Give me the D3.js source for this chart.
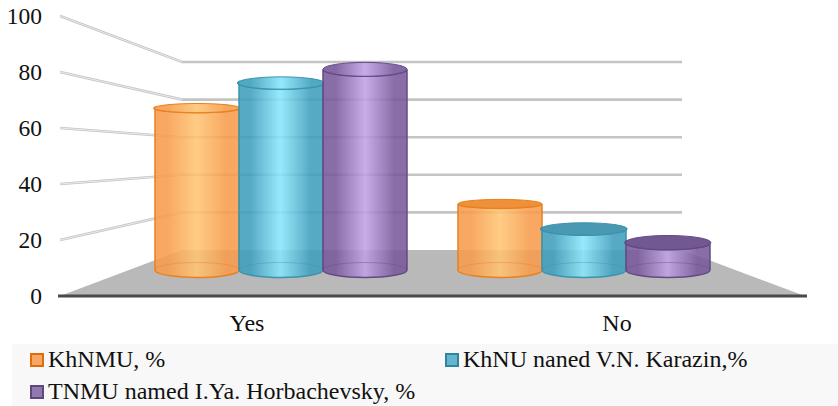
<!DOCTYPE html>
<html>
<head>
<meta charset="utf-8">
<script src="https://cdn.jsdelivr.net/npm/d3@7/dist/d3.min.js"></script>
<style>
  html, body { margin: 0; padding: 0; background: #fff; }
  svg { display: block; }
  text { font-family: "Liberation Serif", serif; fill: #111; }
</style>
</head>
<body>
<svg id="chart" width="838" height="406"></svg>
<script>
// Survey answers, in percent
const categories = ["Yes", "No"];
const seriesNames = ["KhNMU, %", "KhNU naned V.N. Karazin,%", "TNMU named I.Ya. Horbachevsky, %"];
const khnmu = [71, 29];
const khnu = [82, 18];
const tnmu = [88, 12];
const yTicks = [0, 20, 40, 60, 80, 100];

const allSeries = [khnmu, khnu, tnmu];

// One palette per series: edge, centre, outline, cap
const palette = [
  { edge: "#f79c4c", mid: "#ffc574", line: "#e8801f", cap: "#ee8a30", swatch: "#f6a765", swatchLine: "#e36c0a" },
  { edge: "#3f9fbc", mid: "#8ae6fc", line: "#3b94ad", cap: "#3e93ad", swatch: "#62b6cf", swatchLine: "#31859c" },
  { edge: "#78599a", mid: "#c0a2e6", line: "#644a85", cap: "#6a4f8a", swatch: "#9178b0", swatchLine: "#5f497a" }
];

const svg = d3.select("#chart");
const defs = svg.append("defs");

// Three depth planes of the 3D box
const frontY = d3.scaleLinear().domain([0, 100]).range([296, 16]);
const backY = d3.scaleLinear().domain([0, 100]).range([250, 62]);
const barY = d3.scaleLinear().domain([0, 100]).range([270, 42]);

const frontX = d3.scaleLinear().domain([0, 1]).range([60, 805]);
const backX = d3.scaleLinear().domain([0, 1]).range([182, 682]);

// Bar positions sit on the middle plane; labels on the front edge
const barGroups = d3.scaleOrdinal().domain(categories).range([155, 458]);
const barWidth = 84;
const labelX = d3.scalePoint().domain(categories).range([247, 617]);

// Wall gridlines: grey stroke with a pale highlight
const gridLayer = svg.append("g");
const gridPath = v => {
  const p = d3.path();
  p.moveTo(frontX(0), frontY(v));
  p.lineTo(backX(0), backY(v));
  p.lineTo(backX(1), backY(v));
  return p.toString();
};
gridLayer.selectAll("path.grid")
  .data(yTicks.slice(1))
  .join("path")
  .attr("class", "grid")
  .attr("d", gridPath)
  .attr("fill", "none")
  .attr("stroke", "#c4c4c4")
  .attr("stroke-width", 2.6);
gridLayer.selectAll("path.shine")
  .data(yTicks.slice(1))
  .join("path")
  .attr("class", "shine")
  .attr("d", v => {
    const p = d3.path();
    p.moveTo(frontX(0), frontY(v));
    p.lineTo(backX(0), backY(v));
    return p.toString();
  })
  .attr("fill", "none")
  .attr("stroke", "#f4f4f4")
  .attr("stroke-width", 0.8);

// Floor of the box
svg.append("path")
  .attr("d", d3.line()([
    [frontX(0), frontY(0)],
    [backX(0), backY(0)],
    [backX(1), backY(0)],
    [frontX(1), frontY(0)]
  ]) + "Z")
  .attr("fill", "#b9b9b9");

// Dark front edge of the floor
svg.append("line")
  .attr("x1", frontX(0) - 2).attr("x2", frontX(1) + 2)
  .attr("y1", frontY(0)).attr("y2", frontY(0))
  .attr("stroke", "#4a4a4a")
  .attr("stroke-width", 3);

// Horizontal shading for each cylinder body
palette.forEach((c, i) => {
  const g = defs.append("linearGradient").attr("id", "body" + i);
  g.append("stop").attr("offset", "0%").attr("stop-color", c.edge);
  g.append("stop").attr("offset", "15%").attr("stop-color", c.edge);
  g.append("stop").attr("offset", "50%").attr("stop-color", c.mid);
  g.append("stop").attr("offset", "85%").attr("stop-color", c.edge);
  g.append("stop").attr("offset", "100%").attr("stop-color", c.edge);
});

// Ellipse half-heights and tilts per series, for the caps and bases
const capRy = [4.5, 6, 7];
const capTilt = [[2, 0], [3, 3], [0, 3]];
const baseRy = 7.5;
const baseTilt = [-1.5, 0, 0];

// Elliptical edge ending at (x1,y1), on the side of the chord given by sweep
const arcTo = (rx, ry, x1, y1, sweep) => `A${rx},${ry} 0 0 ${sweep} ${x1},${y1}`;

const barsLayer = svg.append("g");
categories.forEach((cat, ci) => {
  allSeries.forEach((values, si) => {
    const v = values[ci];
    const x0 = barGroups(cat) + si * barWidth;
    const x1 = x0 + barWidth;
    const rx = barWidth / 2;
    const ry = capRy[si];
    const tilt = capTilt[si][ci];
    const top = barY(v);
    const topL = top - tilt / 2;
    const topR = top + tilt / 2;
    const base = barY(0);
    const baseL = base - baseTilt[si] / 2;
    const baseR = base + baseTilt[si] / 2;
    const c = palette[si];
    const bar = barsLayer.append("g");

    // Body
    bar.append("path")
      .attr("d", `M${x0},${topL}` + arcTo(rx, ry, x1, topR, 0) +
        `L${x1},${baseR}` + arcTo(rx, baseRy, x0, baseL, 1) + "Z")
      .attr("fill", `url(#body${si})`)
      .attr("fill-opacity", 0.88)
      .attr("stroke", c.line)
      .attr("stroke-width", 1.5);

    // Far side of the base, seen through the translucent body
    bar.append("path")
      .attr("d", `M${x0},${baseL}` + arcTo(rx, baseRy, x1, baseR, 1))
      .attr("fill", "none")
      .attr("stroke", c.line)
      .attr("stroke-opacity", 0.4)
      .attr("stroke-width", 1);

    // Cap
    bar.append("path")
      .attr("d", `M${x0},${topL}` + arcTo(rx, ry, x1, topR, 0) + arcTo(rx, ry, x0, topL, 0) + "Z")
      .attr("fill", v < 50 ? c.cap : `url(#body${si})`)
      .attr("fill-opacity", v < 50 ? 0.95 : 0.9)
      .attr("stroke", c.line)
      .attr("stroke-width", 1);
  });
});

// Value axis labels
svg.append("g").selectAll("text")
  .data(yTicks)
  .join("text")
  .attr("x", 42)
  .attr("y", v => frontY(v) + 8)
  .attr("text-anchor", "end")
  .attr("font-size", 23.5)
  .text(v => v);

// Category labels
svg.append("g").selectAll("text")
  .data(categories)
  .join("text")
  .attr("x", d => labelX(d))
  .attr("y", 331)
  .attr("text-anchor", "middle")
  .attr("font-size", 24)
  .text(d => d);

// Legend panel
svg.append("rect")
  .attr("x", 12).attr("y", 344)
  .attr("width", 826).attr("height", 62)
  .attr("fill", "#f8f8f8");

const legendPos = [[31, 360], [446, 360], [31, 392]];
const legend = svg.append("g").selectAll("g")
  .data(seriesNames)
  .join("g")
  .attr("transform", (d, i) => `translate(${legendPos[i][0]},${legendPos[i][1]})`);
legend.append("rect")
  .attr("x", 0).attr("y", -6)
  .attr("width", 12).attr("height", 12)
  .attr("fill", (d, i) => palette[i].swatch)
  .attr("stroke", (d, i) => palette[i].swatchLine)
  .attr("stroke-width", 2);
legend.append("text")
  .attr("x", 17)
  .attr("y", 7)
  .attr("font-size", 24)
  .text(d => d);
</script>
</body>
</html>
